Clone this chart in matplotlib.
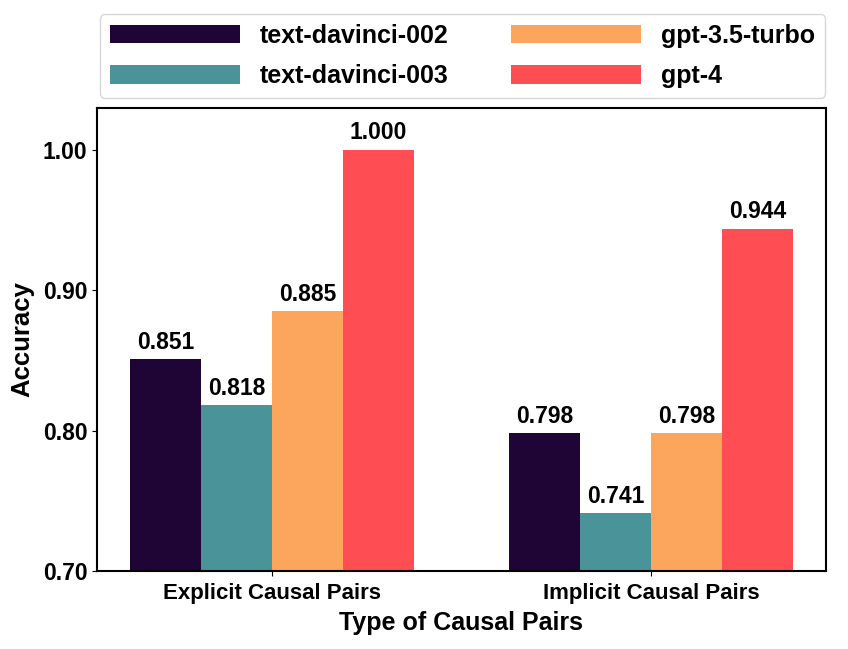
import matplotlib
matplotlib.use("Agg")
import matplotlib.pyplot as plt
import numpy as np

plt.rcParams["font.family"] = ["Liberation Sans", "DejaVu Sans"]
plt.rcParams["font.weight"] = "bold"

# Data
categories = ["Explicit Causal Pairs", "Implicit Causal Pairs"]
models = ["text-davinci-002", "text-davinci-003", "gpt-3.5-turbo", "gpt-4"]
scores = {
    "text-davinci-002": [0.851, 0.798],
    "text-davinci-003": [0.818, 0.741],
    "gpt-3.5-turbo": [0.885, 0.798],
    "gpt-4": [1.000, 0.944],
}
colors = ["#1f0436", "#4a9399", "#fca55c", "#fe4e53"]

fig = plt.figure(figsize=(8.48, 6.49), dpi=100)
ax = fig.add_axes([0.1144, 0.1202, 0.8596, 0.7134])

x = np.arange(len(categories))
w = 0.1875
for i, m in enumerate(models):
    pos = x + (i - 1.5) * w
    bars = ax.bar(pos, scores[m], width=w, color=colors[i], label=m)
    for b, v in zip(bars, scores[m]):
        ax.text(b.get_x() + b.get_width() / 2, v + 0.004, f"{v:.3f}",
                ha="center", va="bottom", fontsize=16.5, fontweight="bold")

ax.set_ylim(0.70, 1.03)
ax.set_yticks([0.70, 0.80, 0.90, 1.00])
ax.set_yticklabels(["0.70", "0.80", "0.90", "1.00"])
ax.set_xticks(x)
ax.set_xticklabels(categories)
ax.tick_params(axis="y", labelsize=16.5)
ax.tick_params(axis="x", labelsize=16, pad=5)
ax.set_xlabel("Type of Causal Pairs", fontsize=18, fontweight="bold", labelpad=5)
ax.set_ylabel("Accuracy", fontsize=18.5, fontweight="bold", labelpad=6)
for s in ax.spines.values():
    s.set_linewidth(1.5)

fig.legend(loc="upper left", bbox_to_anchor=(100 / 848, 1 - 14 / 649),
           ncol=2, handlelength=5.2, handleheight=0.75, handletextpad=0.8,
           borderaxespad=0, columnspacing=2.5, labelspacing=0.65,
           prop={"weight": "bold", "size": 18})

fig.savefig("out.png", dpi=100)
